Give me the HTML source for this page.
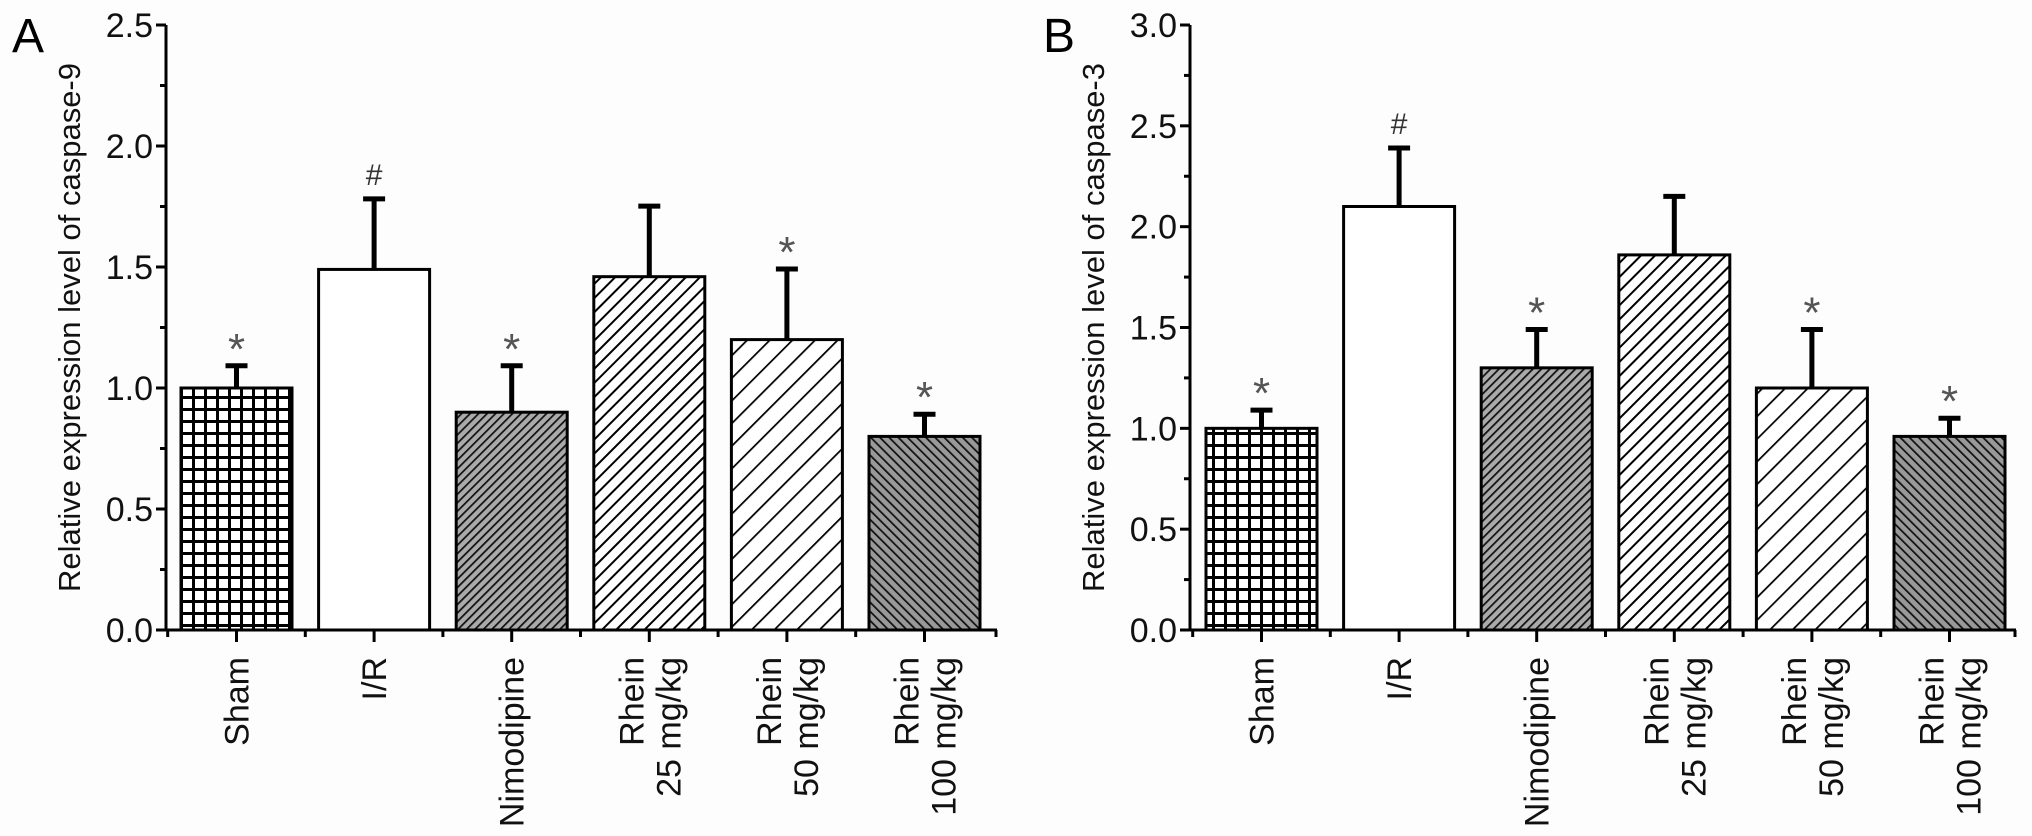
<!DOCTYPE html>
<html><head><meta charset="utf-8"><style>
html,body{margin:0;padding:0;background:#fdfdfd;}
svg{display:block;font-family:"Liberation Sans",Arial,sans-serif;}
</style></head><body>
<svg id="chart" width="2032" height="836" viewBox="0 0 2032 836" xmlns="http://www.w3.org/2000/svg">
<defs>
<pattern id="pGrid" width="12" height="12" patternUnits="userSpaceOnUse"><rect width="12" height="12" fill="#fff"/><path d="M0 1.5H12M1.5 0V12" stroke="#000" stroke-width="3"/></pattern>
<pattern id="pDense" width="6" height="6" patternUnits="userSpaceOnUse" patternTransform="rotate(45)"><rect width="6" height="6" fill="#aaa"/><line x1="0" y1="0" x2="0" y2="6" stroke="#111" stroke-width="3.5"/></pattern>
<pattern id="pMed" width="10" height="10" patternUnits="userSpaceOnUse" patternTransform="rotate(45)"><rect width="10" height="10" fill="#fff"/><line x1="0" y1="0" x2="0" y2="10" stroke="#000" stroke-width="4"/></pattern>
<pattern id="pWide" width="16" height="16" patternUnits="userSpaceOnUse" patternTransform="rotate(45)"><rect width="16" height="16" fill="#fff"/><line x1="0" y1="0" x2="0" y2="16" stroke="#000" stroke-width="3.5"/></pattern>
<pattern id="pBack" width="6.5" height="6.5" patternUnits="userSpaceOnUse" patternTransform="rotate(-45)"><rect width="6.5" height="6.5" fill="#999"/><line x1="0" y1="0" x2="0" y2="6.5" stroke="#111" stroke-width="3.5"/></pattern>
</defs>
<g id="layer"></g>
</svg>
<script>
const categories = ["Sham","I/R","Nimodipine","Rhein|25 mg/kg","Rhein|50 mg/kg","Rhein|100 mg/kg"];
const fills = ["url(#pGrid)","#fff","url(#pDense)","url(#pMed)","url(#pWide)","url(#pBack)"];
const valuesA = [1.0, 1.49, 0.9, 1.46, 1.2, 0.8];
const errorsA = [0.1, 0.30, 0.2, 0.30, 0.3, 0.1];
const marksA = ["*","#","*","","*","*"];
const ticksA = ["0.0","0.5","1.0","1.5","2.0","2.5"];
const valuesB = [1.0, 2.1, 1.3, 1.86, 1.2, 0.96];
const errorsB = [0.1, 0.3, 0.2, 0.30, 0.3, 0.10];
const marksB = ["*","#","*","","*","*"];
const ticksB = ["0.0","0.5","1.0","1.5","2.0","2.5","3.0"];

const NS="http://www.w3.org/2000/svg";
const layer=document.getElementById('layer');
function mk(tag,attrs,parent){const e=document.createElementNS(NS,tag);for(const k in attrs)e.setAttribute(k,attrs[k]);(parent||layer).appendChild(e);return e;}

function panel(cfg){
  const g=mk('g',{});
  
  
  const ax=cfg.axisX, y0=630, yTop=25, ymax=cfg.ymax;
  const y=v=>y0-(v/ymax)*(y0-yTop);
  const step=137.6, bw=111, first=cfg.firstBar;
  const cx=i=>first+bw/2+i*step;
  cfg.values.forEach((v,i)=>{
    const r=mk('rect',{x:cx(i)-bw/2,y:y(v),width:bw,height:y0-y(v),fill:fills[i],stroke:'#000','stroke-width':3},g);
    
    
    const et=y(v+cfg.errors[i]);
    const eb=mk('path',{d:`M${cx(i)} ${y(v)}V${et+2}M${cx(i)-11} ${et+2}H${cx(i)+11}`,stroke:'#000','stroke-width':5,fill:'none'},g);
    
    
    if(cfg.marks[i]){
      const star=cfg.marks[i]=='*';
      const t=mk('text',{x:cx(i),y:et-(star?0:12),'text-anchor':'middle','font-size':star?44:30,fill:star?'#555':'#333'},g);
      t.textContent=cfg.marks[i];
      
      
    }
    const parts=categories[i].split('|');
    const lx=cx(i), ly=657;
    parts.forEach((p,k)=>{
      const off=parts.length==1?12:(k==0?-6:31);
      const t=mk('text',{x:0,y:0,transform:`translate(${lx+off},${ly}) rotate(-90)`,'text-anchor':'end','font-size':34,fill:'#111'},g);
      t.textContent=p;
      
      
    });
  });
  const axes=mk('path',{d:`M${ax} ${yTop}V${y0}H${cfg.axisEnd}`,stroke:'#000','stroke-width':3,fill:'none'},g);
  
  
  cfg.ticks.forEach((lab,k)=>{
    const v=parseFloat(lab), yy=y(v);
    mk('line',{x1:ax-10,x2:ax,y1:yy,y2:yy,stroke:'#000','stroke-width':3},g);
    if(v<ymax) mk('line',{x1:ax-6,x2:ax,y1:y(v+0.25),y2:y(v+0.25),stroke:'#000','stroke-width':3},g);
    const t=mk('text',{x:ax-13,y:yy+12,'text-anchor':'end','font-size':34,fill:'#111'},g);
    t.textContent=lab;
    
    
  });
  for(let i=0;i<categories.length;i++){
    mk('line',{x1:cx(i),x2:cx(i),y1:y0,y2:y0+12,stroke:'#000','stroke-width':3},g);
    const mx=cx(i)-step/2;
    mk('line',{x1:mx,x2:mx,y1:y0,y2:y0+7,stroke:'#000','stroke-width':3},g);
  }
  mk('line',{x1:cfg.axisEnd-1,x2:cfg.axisEnd-1,y1:y0,y2:y0+7,stroke:'#000','stroke-width':3},g);
  const tt=mk('text',{x:0,y:0,transform:`translate(${cfg.titleX},${(yTop+y0)/2}) rotate(-90)`,'text-anchor':'middle','font-size':31,fill:'#111'},g);
  tt.textContent=cfg.title;
  
  
  const pl=mk('text',{x:cfg.letterX,y:52,'font-size':48,fill:'#000'},g);
  pl.textContent=cfg.letter;
  
  
}
panel({id:'panel-a',axisX:166,axisEnd:997,firstBar:181,ymax:2.5,values:valuesA,errors:errorsA,marks:marksA,ticks:ticksA,title:'Relative expression level of caspase-9',titleX:80,letter:'A',letterX:12});
panel({id:'panel-b',axisX:1190,axisEnd:2016,firstBar:1206,ymax:3.0,values:valuesB,errors:errorsB,marks:marksB,ticks:ticksB,title:'Relative expression level of caspase-3',titleX:1104,letter:'B',letterX:1043});
</script>
</body></html>
